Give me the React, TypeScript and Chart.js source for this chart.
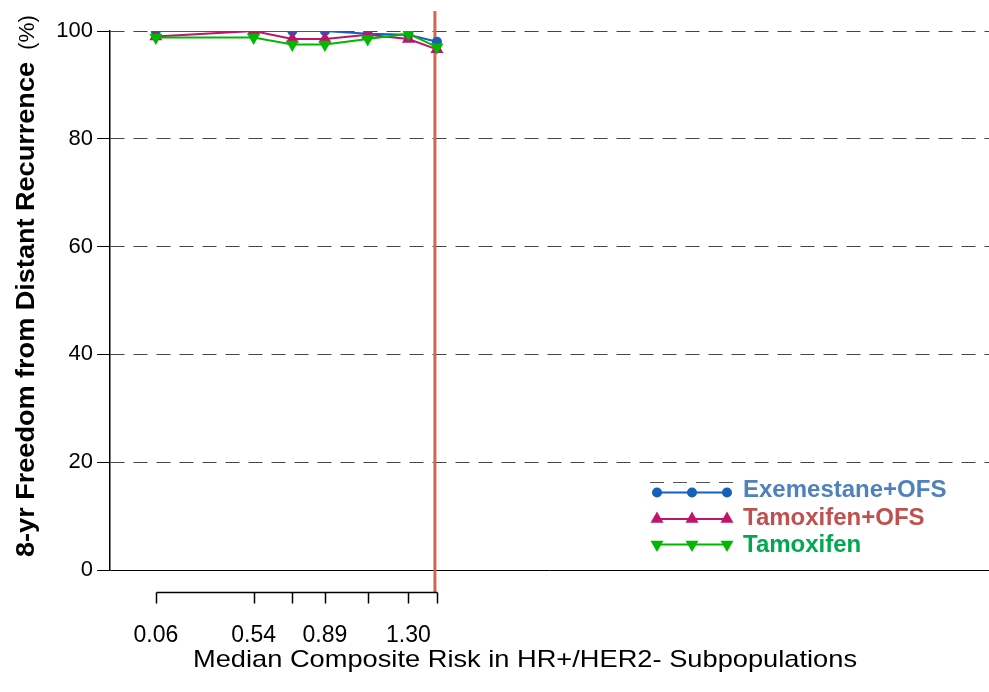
import React, { useEffect, useRef } from 'react';
import { Chart, registerables } from 'chart.js';

Chart.register(...registerables);

// ---- data ----
const xValues = [0.06, 0.54, 0.73, 0.89, 1.10, 1.30, 1.44];
const xTickLabels = ['0.06', '0.54', '', '0.89', '', '1.30', ''];
const exemestaneOFS = [100, 100, 100, 100, 99.5, 99.3, 98.0];
const tamoxifenOFS = [99.0, 100, 98.5, 98.5, 99.3, 98.5, 96.6];
const tamoxifen = [98.8, 98.8, 97.5, 97.5, 98.5, 99.5, 97.0];
const seriesNames = ['Exemestane+OFS', 'Tamoxifen+OFS', 'Tamoxifen'];
const yTicks = [0, 20, 40, 60, 80, 100];
const cutoffX = 1.43;
const xTitle = 'Median Composite Risk in HR+/HER2- Subpopulations';
const yTitleBold = '8-yr Freedom from Distant Recurrence';
const yTitleUnit = '(%)';

const lineColors = ['#1560bd', '#c0136a', '#00b800'];
const textColors = ['#4f81bd', '#c0504d', '#00a850'];
const FONT = '"Liberation Sans", Arial, sans-serif';

function fitText(ctx: CanvasRenderingContext2D, text: string, x: number, y: number, w: number) {
  const m = ctx.measureText(text).width;
  ctx.save();
  ctx.translate(x, y);
  ctx.scale(w / m, 1);
  ctx.fillText(text, 0, 0);
  ctx.restore();
}

function drawMarker(ctx: CanvasRenderingContext2D, kind: number, x: number, y: number) {
  ctx.beginPath();
  if (kind === 0) {
    ctx.arc(x, y, 5, 0, Math.PI * 2);
  } else {
    const r = 7.5;
    const s = kind === 2 ? -1 : 1;
    ctx.moveTo(x, y - s * r);
    ctx.lineTo(x + r * 0.866, y + s * r * 0.5);
    ctx.lineTo(x - r * 0.866, y + s * r * 0.5);
    ctx.closePath();
  }
  ctx.fill();
}

const customPlugin = {
  id: 'customDecor',
  beforeDatasetsDraw(chart: any) {
    const ctx: CanvasRenderingContext2D = chart.ctx;
    const x = chart.scales.x.getPixelForValue(cutoffX);
    ctx.save();
    ctx.strokeStyle = '#d9634c';
    ctx.lineWidth = 3;
    ctx.beginPath();
    ctx.moveTo(x, 11);
    ctx.lineTo(x, chart.chartArea.bottom + 22);
    ctx.stroke();
    ctx.restore();
  },
  afterDraw(chart: any) {
    const ctx: CanvasRenderingContext2D = chart.ctx;
    const xs = chart.scales.x;
    const area = chart.chartArea;
    const px = xValues.map((v) => Math.round(xs.getPixelForValue(v)) + 0.5);
    const axisY = area.bottom + 22.5;
    ctx.save();
    ctx.strokeStyle = '#000';
    ctx.lineWidth = 1.5;
    ctx.beginPath();
    ctx.moveTo(px[0], axisY);
    ctx.lineTo(px[px.length - 1], axisY);
    px.forEach((p) => {
      ctx.moveTo(p, axisY);
      ctx.lineTo(p, axisY + 11);
    });
    ctx.stroke();

    // x title
    ctx.fillStyle = '#000';
    ctx.textBaseline = 'alphabetic';
    ctx.textAlign = 'left';
    ctx.font = `24px ${FONT}`;
    fitText(ctx, xTitle, 193, 667, 664);

    // y title
    ctx.save();
    ctx.translate(34, 557);
    ctx.rotate(-Math.PI / 2);
    ctx.font = `bold 26px ${FONT}`;
    fitText(ctx, yTitleBold, 0, 0, 495);
    ctx.font = `22px ${FONT}`;
    fitText(ctx, yTitleUnit, 507, 0, 35);
    ctx.restore();

    // legend
    const rowY = [492.5, 519, 544.5];
    const baseY = [497, 524.5, 552];
    ctx.strokeStyle = '#555';
    ctx.lineWidth = 1;
    ctx.setLineDash([14, 9]);
    ctx.beginPath();
    ctx.moveTo(650, 482.5);
    ctx.lineTo(740, 482.5);
    ctx.stroke();
    ctx.setLineDash([]);
    seriesNames.forEach((name, i) => {
      ctx.strokeStyle = lineColors[i];
      ctx.fillStyle = lineColors[i];
      ctx.lineWidth = 2;
      ctx.beginPath();
      ctx.moveTo(657, rowY[i]);
      ctx.lineTo(727, rowY[i]);
      ctx.stroke();
      [657, 692, 727].forEach((mx) => drawMarker(ctx, i, mx, rowY[i]));
      ctx.fillStyle = textColors[i];
      ctx.font = `bold 24px ${FONT}`;
      ctx.fillText(name, 743, baseY[i]);
    });
    ctx.restore();
  },
};

export default function App() {
  const ref = useRef<HTMLCanvasElement | null>(null);
  useEffect(() => {
    document.body.style.margin = '0';
    const canvas = ref.current;
    if (!canvas) return;
    const mk = (vals: number[]) => xValues.map((x, i) => ({ x, y: vals[i] }));
    const chart = new Chart(canvas, {
      type: 'line',
      data: {
        datasets: [
          {
            label: seriesNames[0],
            data: mk(exemestaneOFS),
            borderColor: lineColors[0],
            backgroundColor: lineColors[0],
            borderWidth: 2,
            pointStyle: 'circle',
            pointRadius: 5,
            pointBorderWidth: 0,
            order: 3,
          },
          {
            label: seriesNames[1],
            data: mk(tamoxifenOFS),
            borderColor: lineColors[1],
            backgroundColor: lineColors[1],
            borderWidth: 2,
            pointStyle: 'triangle',
            pointRadius: 7.5,
            pointBorderWidth: 0,
            order: 2,
          },
          {
            label: seriesNames[2],
            data: mk(tamoxifen),
            borderColor: lineColors[2],
            backgroundColor: lineColors[2],
            borderWidth: 2,
            pointStyle: 'triangle',
            pointRotation: 180,
            pointRadius: 7.5,
            pointBorderWidth: 0,
            order: 1,
          },
        ],
      },
      options: {
        responsive: false,
        animation: false,
        devicePixelRatio: 1,
        layout: { autoPadding: false, padding: { top: 31, right: 0, left: 0, bottom: 0 } },
        plugins: { legend: { display: false }, tooltip: { enabled: false }, title: { display: false } },
        scales: {
          x: {
            type: 'linear',
            min: -0.165,
            max: 4.15,
            afterBuildTicks: (s: any) => {
              s.ticks = xValues.map((v) => ({ value: v }));
            },
            afterFit: (s: any) => {
              s.height = 122;
              s.paddingLeft = 0;
              s.paddingRight = 0;
            },
            ticks: {
              autoSkip: false,
              maxRotation: 0,
              minRotation: 0,
              padding: 52,
              color: '#000',
              font: { family: FONT, size: 23 },
              callback: (_v: any, i: number) => xTickLabels[i],
            },
            grid: { display: false, drawTicks: false },
            border: { display: false },
          },
          y: {
            type: 'linear',
            min: 0,
            max: 100,
            afterBuildTicks: (s: any) => {
              s.ticks = yTicks.map((v) => ({ value: v }));
            },
            afterFit: (s: any) => {
              s.width = 110;
            },
            ticks: {
              padding: 4,
              color: '#000',
              font: { family: FONT, size: 22 },
              callback: (v: any) => String(v),
            },
            grid: {
              color: (c: any) => (c.tick && c.tick.value === 0 ? '#000' : '#444'),
              lineWidth: 1,
              drawTicks: true,
              tickLength: 13,
              tickColor: '#000',
              tickWidth: 1,
              tickBorderDash: [],
            },
            border: {
              display: true,
              color: '#000',
              width: 1.5,
              dash: (c: any) => (c.tick && c.tick.value === 0 ? [] : [14, 9]),
            },
          },
        },
      },
      plugins: [customPlugin],
    } as any);
    return () => chart.destroy();
  }, []);
  return (
    <div style={{ width: 989, height: 692, background: '#fff' }}>
      <canvas ref={ref} width={989} height={692} style={{ display: 'block' }} />
    </div>
  );
}
